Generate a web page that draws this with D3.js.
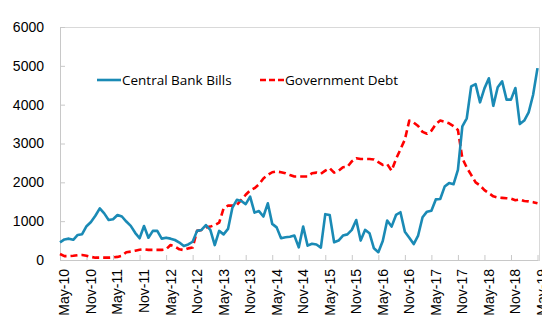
<!DOCTYPE html>
<html>
<head>
<meta charset="utf-8">
<script src="https://cdn.jsdelivr.net/npm/d3@7"></script>
<style>
  html, body { margin: 0; padding: 0; background: #ffffff; }
  svg { display: block; }
</style>
</head>
<body>
<svg id="chart" width="542" height="326"></svg>
<script>
// ---- data ----
const startMonth = "2010-05";   // first observation (monthly)
const tickLabels = ["May-10","Nov-10","May-11","Nov-11","May-12","Nov-12","May-13","Nov-13","May-14","Nov-14",
                    "May-15","Nov-15","May-16","Nov-16","May-17","Nov-17","May-18","Nov-18","May-19"];
const yTicks = [0, 1000, 2000, 3000, 4000, 5000, 6000];
const seriesNames = ["Central Bank Bills", "Government Debt"];

const centralBankBills = [
  455, 530, 550, 520, 645, 665, 870, 980, 1140, 1330,
  1200, 1030, 1050, 1160, 1120, 990, 880, 700, 560, 875,
  575, 750, 750, 550, 575, 550, 515, 450, 360, 400,
  470, 750, 775, 900, 775, 385, 750, 660, 800, 1350,
  1550, 1520, 1440, 1630, 1220, 1260, 1120, 1460, 930, 840,
  560, 585, 600, 630, 325, 860, 370, 420, 400, 320,
  1180, 1160, 455, 500, 630, 660, 775, 1030, 500, 775,
  690, 300, 200, 490, 1015, 860, 1160, 1230, 730, 575,
  410, 630, 1100, 1245, 1270, 1560, 1570, 1890, 1980, 1950,
  2320, 3440, 3650, 4470, 4530, 4060, 4420, 4680, 3970, 4450,
  4600, 4130, 4130, 4430, 3500, 3590, 3800, 4250, 4940
];
const governmentDebt = [
  155, 100, 100, 110, 125, 130, 110, 80, 60, 60,
  60, 60, 65, 80, 110, 200, 215, 240, 265, 275,
  260, 260, 260, 260, 275, 385, 345, 275, 255, 300,
  320, 750, 775, 835, 860, 900, 960, 1330, 1400, 1400,
  1420, 1550, 1680, 1790, 1850, 1950, 2100, 2190, 2260, 2280,
  2260, 2235, 2190, 2150, 2150, 2150, 2150, 2235, 2250, 2220,
  2300, 2365, 2250, 2300, 2390, 2400, 2540, 2620, 2600, 2600,
  2600, 2590, 2520, 2450, 2470, 2300, 2600, 2850, 3100, 3590,
  3540, 3450, 3300, 3250, 3330, 3500, 3590, 3560, 3520, 3450,
  3350, 2620, 2380, 2190, 2000, 1920, 1800, 1720, 1640, 1610,
  1600, 1590, 1580, 1540, 1560, 1520, 1510, 1490, 1460
];

// ---- categories (month labels) ----
const fmt = d3.timeFormat("%b-%y");
const parse = d3.timeParse("%Y-%m");
const categories = centralBankBills.map((_, i) => fmt(d3.timeMonth.offset(parse(startMonth), i)));

// ---- layout ----
const svg = d3.select("#chart");
const plot = { left: 60, right: 539.5, top: 27, bottom: 260 };
const lastX = 537.5;

const x = d3.scalePoint().domain(categories).range([plot.left, lastX]);
const y = d3.scaleLinear().domain([0, 6000]).range([plot.bottom, plot.top]);

const axisColor = "#c8c8c8";
const textColor = "#000000";
const axisFont = "'Liberation Sans', Arial, sans-serif";

// frame
svg.append("rect")
  .attr("x", plot.left).attr("y", plot.top)
  .attr("width", plot.right - plot.left).attr("height", plot.bottom - plot.top)
  .attr("fill", "none").attr("stroke", "#d9d9d9").attr("stroke-width", 1)
  .attr("shape-rendering", "crispEdges");

// y axis
const yAxis = svg.append("g")
  .attr("transform", `translate(${plot.left},0)`)
  .call(d3.axisLeft(y).tickValues(yTicks).tickSize(-5).tickPadding(16).tickFormat(d3.format("d")));
yAxis.select(".domain").attr("stroke", axisColor);
yAxis.selectAll(".tick line").attr("stroke", axisColor);
yAxis.selectAll("text").attr("fill", textColor).style("font-family", axisFont).style("font-size", "14px");

// x axis
const xAxis = svg.append("g")
  .attr("transform", `translate(0,${plot.bottom})`)
  .call(d3.axisBottom(x).tickValues(tickLabels).tickSize(-5).tickSizeOuter(0));
xAxis.select(".domain").attr("stroke", axisColor);
xAxis.selectAll(".tick line").attr("stroke", axisColor);
xAxis.selectAll("text")
  .attr("fill", textColor)
  .style("font-family", axisFont).style("font-size", "14px")
  .attr("text-anchor", "end")
  .attr("transform", "rotate(-90)")
  .attr("x", -9).attr("y", 4).attr("dy", "0.35em");

// lines
const line = d3.line().x((d, i) => x(categories[i])).y(d => y(d));

svg.append("path")
  .datum(governmentDebt)
  .attr("d", line)
  .attr("fill", "none").attr("stroke", "#ff0000").attr("stroke-width", 2.6)
  .attr("stroke-dasharray", "7,4").attr("stroke-linejoin", "round");

svg.append("path")
  .datum(centralBankBills)
  .attr("d", line)
  .attr("fill", "none").attr("stroke", "#1a8ab5").attr("stroke-width", 2.6)
  .attr("stroke-linejoin", "round");

// legend
const legendFont = "'Open Sans', 'Noto Sans', sans-serif";
const leg = svg.append("g");
leg.append("line").attr("x1", 97).attr("x2", 121).attr("y1", 80).attr("y2", 80)
  .attr("stroke", "#1a8ab5").attr("stroke-width", 2.6);
leg.append("text").attr("x", 122).attr("y", 85).text(seriesNames[0])
  .style("font-family", legendFont).style("font-size", "13.5px").attr("fill", textColor);
leg.append("line").attr("x1", 260).attr("x2", 284).attr("y1", 80).attr("y2", 80)
  .attr("stroke", "#ff0000").attr("stroke-width", 2.6).attr("stroke-dasharray", "6,3");
leg.append("text").attr("x", 285).attr("y", 85).text(seriesNames[1])
  .style("font-family", legendFont).style("font-size", "13.5px").attr("fill", textColor);
</script>
</body>
</html>
